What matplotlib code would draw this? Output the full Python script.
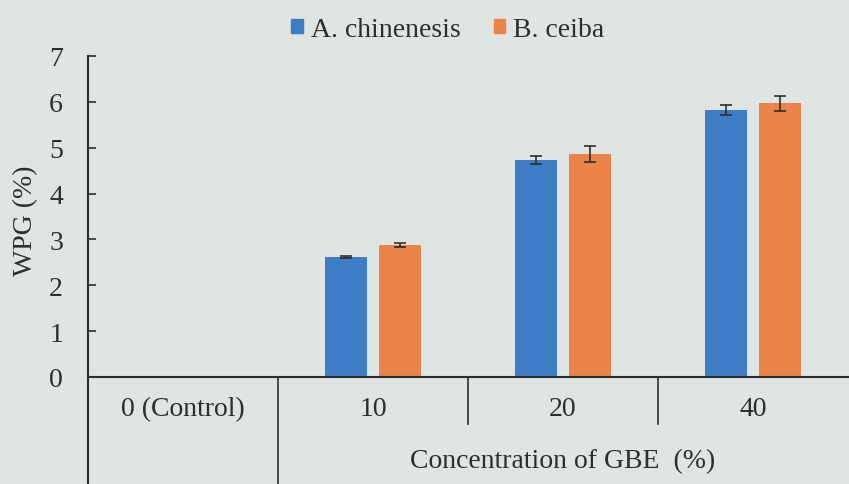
import numpy as np
import matplotlib
matplotlib.use("Agg")
import matplotlib.pyplot as plt
from matplotlib.patches import Patch
from matplotlib.transforms import blended_transform_factory

plt.rcParams['font.family'] = ['Liberation Serif', 'DejaVu Serif']

# WPG (%) for each GBE concentration; control has no bars
categories = ["0 (Control)", "10", "20", "40"]
chinenesis = [0.0, 2.61, 4.73, 5.82]
chinenesis_err = [0.0, 0.02, 0.09, 0.11]
ceiba = [0.0, 2.88, 4.86, 5.97]
ceiba_err = [0.0, 0.05, 0.18, 0.16]
yticks = [0, 1, 2, 3, 4, 5, 6, 7]

bg = '#dfe5e3'
ink = '#2e2e2e'
blue = '#3d7dc6'
orange = '#ea8448'

fig = plt.figure(figsize=(8.49, 4.85), dpi=100, facecolor=bg)
ax = fig.add_axes([88 / 849, 107 / 485, 760 / 849, 321 / 485], facecolor=bg)

x = np.arange(len(categories))
w = 0.22
off = 0.142
has_bar = np.array(chinenesis) > 0

ax.bar(x[has_bar] - off, np.array(chinenesis)[has_bar], w, color=blue, zorder=2)
ax.bar(x[has_bar] + off, np.array(ceiba)[has_bar], w, color=orange, zorder=2)
ax.errorbar(x[has_bar] - off, np.array(chinenesis)[has_bar], yerr=np.array(chinenesis_err)[has_bar],
            fmt='none', ecolor=ink, elinewidth=1.2, capsize=4, capthick=1.2, zorder=3)
ax.errorbar(x[has_bar] + off, np.array(ceiba)[has_bar], yerr=np.array(ceiba_err)[has_bar],
            fmt='none', ecolor=ink, elinewidth=1.2, capsize=4, capthick=1.2, zorder=3)

ax.set_xlim(-0.5, 3.5)
ax.set_ylim(0, 7)
ax.set_yticks(yticks)
ax.tick_params(axis='y', direction='in', length=6, width=1.2, pad=18,
               labelsize=20, colors=ink)
ax.set_xticks(x)
ax.set_xticklabels(categories)
ax.tick_params(axis='x', length=0, pad=14, labelsize=20, colors=ink)

for s in ['top', 'right']:
    ax.spines[s].set_visible(False)
for s in ['left', 'bottom']:
    ax.spines[s].set_color(ink)
    ax.spines[s].set_linewidth(1.5)

# multi-level category dividers below the axis
tr = blended_transform_factory(ax.transData, ax.transAxes)
ax.plot([-0.5, -0.5], [0, -0.34], color=ink, lw=1.5, transform=tr, clip_on=False)
ax.plot([0.5, 0.5], [0, -0.34], color=ink, lw=1.2, transform=tr, clip_on=False)
for xd in [1.5, 2.5]:
    ax.plot([xd, xd], [0, -0.146], color=ink, lw=1.2, transform=tr, clip_on=False)

ax.set_ylabel('WPG (%)', fontsize=20, color=ink)
ax.yaxis.set_label_coords(-0.066, 0.49)

fig.text(563 / 849, 1 - 462 / 485, 'Concentration of GBE  (%)', fontsize=20,
         color=ink, ha='center', va='center')

handles = [Patch(color=blue, label='A. chinenesis'), Patch(color=orange, label='B. ceiba')]
fig.legend(handles=handles, loc='upper center', bbox_to_anchor=(448 / 849, 1.015), ncol=2,
           frameon=False, fontsize=20, handlelength=0.4, handleheight=0.4,
           handletextpad=0.3, columnspacing=1.2, labelcolor=ink)

fig.savefig('out.png', dpi=100, facecolor=bg)
